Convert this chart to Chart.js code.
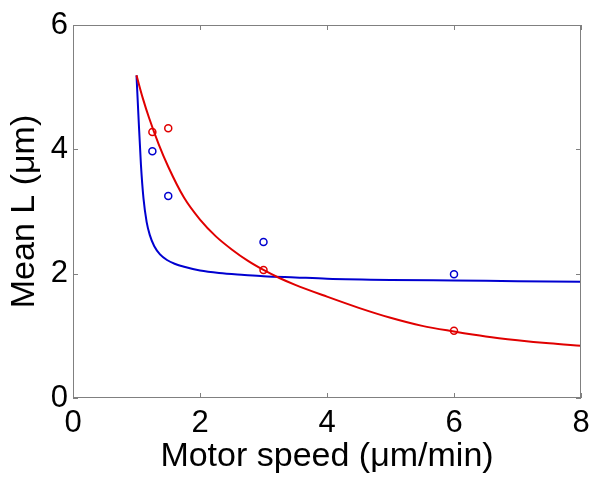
<!DOCTYPE html>
<html>
<head>
<meta charset="utf-8">
<script src="https://cdn.jsdelivr.net/npm/chart.js@4.4.1/dist/chart.umd.min.js"></script>
<style>
 body { margin: 0; background: #ffffff; }
</style>
</head>
<body>
<canvas id="chart_L" width="600" height="489"></canvas>
<script>
// measured points (motor speed in um/min, mean L in um)
const speed_meas = [1.25, 1.5, 3, 6];
const L_red  = [4.28, 4.34, 2.06, 1.08];
const L_blue = [3.97, 3.25, 2.51, 1.99];

// fitted curves
const fit_red_x  = [1, 1.1, 1.2, 1.35, 1.5, 1.75, 2, 2.25, 2.5, 2.75, 3, 3.25, 3.5, 4, 4.5, 5, 5.5, 6, 6.5, 7, 7.5, 8];
const fit_red_y  = [5.19, 4.82, 4.50, 4.08, 3.72, 3.22, 2.87, 2.60, 2.39, 2.21, 2.06, 1.93, 1.82, 1.63, 1.45, 1.29, 1.16, 1.07, 0.99, 0.93, 0.88, 0.84];
const fit_blue_x = [1, 1.03, 1.07, 1.11, 1.16, 1.21, 1.28, 1.37, 1.48, 1.6, 1.75, 2, 2.3, 2.7, 3, 3.5, 4, 5, 6, 7, 8];
const fit_blue_y = [5.19, 4.55, 3.75, 3.21, 2.83, 2.62, 2.44, 2.31, 2.22, 2.16, 2.11, 2.05, 2.01, 1.98, 1.96, 1.94, 1.92, 1.90, 1.89, 1.88, 1.87];

const x_ticks = [0, 2, 4, 6, 8];
const y_ticks = [0, 2, 4, 6];

const RED  = '#e00000';
const BLUE = '#0000d0';
const FONT = '"Liberation Sans", Arial, sans-serif';

function pts(xs, ys) {
  const out = [];
  for ( var i = 0; i < xs.length; i++ ) out.push({ x: xs[i], y: ys[i] });
  return out;
}

// matlab style box with inward ticks
const boxPlugin = {
  id: 'box',
  afterDraw(chart) {
    const c = chart.ctx, a = chart.chartArea;
    const sx = chart.scales.x, sy = chart.scales.y;
    c.save();
    c.strokeStyle = '#808080';
    c.lineWidth = 1;
    c.strokeRect(a.left + 0.5, a.top + 0.5, a.right - a.left - 1, a.bottom - a.top - 1);
    c.beginPath();
    x_ticks.forEach(v => {
      const px = Math.round(sx.getPixelForValue(v)) + 0.5;
      c.moveTo(px, a.bottom); c.lineTo(px, a.bottom - 5);
      c.moveTo(px, a.top);    c.lineTo(px, a.top + 5);
    });
    y_ticks.forEach(v => {
      const py = Math.round(sy.getPixelForValue(v)) + 0.5;
      c.moveTo(a.left, py);  c.lineTo(a.left + 5, py);
      c.moveTo(a.right, py); c.lineTo(a.right - 5, py);
    });
    c.stroke();
    c.restore();
  }
};

const config = {
  type: 'scatter',
  data: {
    datasets: [{
        label: 'fit red',
        data: pts(fit_red_x, fit_red_y),
        showLine: true,
        borderColor: RED,
        borderWidth: 2,
        pointRadius: 0,
        cubicInterpolationMode: 'monotone'
    },
    {
        label: 'fit blue',
        data: pts(fit_blue_x, fit_blue_y),
        showLine: true,
        borderColor: BLUE,
        borderWidth: 2,
        pointRadius: 0,
        cubicInterpolationMode: 'monotone'
    },
    {
        label: 'red',
        data: pts(speed_meas, L_red),
        borderColor: RED,
        backgroundColor: 'rgba(0,0,0,0)',
        borderWidth: 1.5,
        pointRadius: 3.5
    },
    {
        label: 'blue',
        data: pts(speed_meas, L_blue),
        borderColor: BLUE,
        backgroundColor: 'rgba(0,0,0,0)',
        borderWidth: 1.5,
        pointRadius: 3.5
    }]
  },
  options: {
    responsive: false,
    animation: false,
    layout: { padding: { top: 25, right: 19, left: 0, bottom: 0 } },
    plugins: {
      legend: { display: false },
      tooltip: { enabled: false }
    },
    scales: {
      x: {
        type: 'linear', min: 0, max: 8,
        afterBuildTicks: s => { s.ticks = x_ticks.map(v => ({ value: v })); },
        afterFit: s => { s.height = 91; },
        grid: { display: false, drawTicks: false },
        border: { display: false },
        ticks: { color: '#000', font: { family: FONT, size: 31 }, padding: 7, maxRotation: 0 },
        title: { display: true, text: 'Motor speed (μm/min)', color: '#000',
                 font: { family: FONT, size: 34 }, padding: { top: 0, bottom: 12 } }
      },
      y: {
        type: 'linear', min: 0, max: 6,
        afterBuildTicks: s => { s.ticks = y_ticks.map(v => ({ value: v })); },
        afterFit: s => { s.width = 73; },
        grid: { display: false, drawTicks: false },
        border: { display: false },
        ticks: { color: '#000', font: { family: FONT, size: 31 }, padding: 5 },
        title: { display: true, text: 'Mean L (μm)', color: '#000',
                 font: { family: FONT, size: 34 }, padding: { top: 4, bottom: 0 } }
      }
    }
  },
  plugins: [boxPlugin]
};

const chartL = new Chart(document.getElementById('chart_L'), config);
</script>
</body>
</html>
